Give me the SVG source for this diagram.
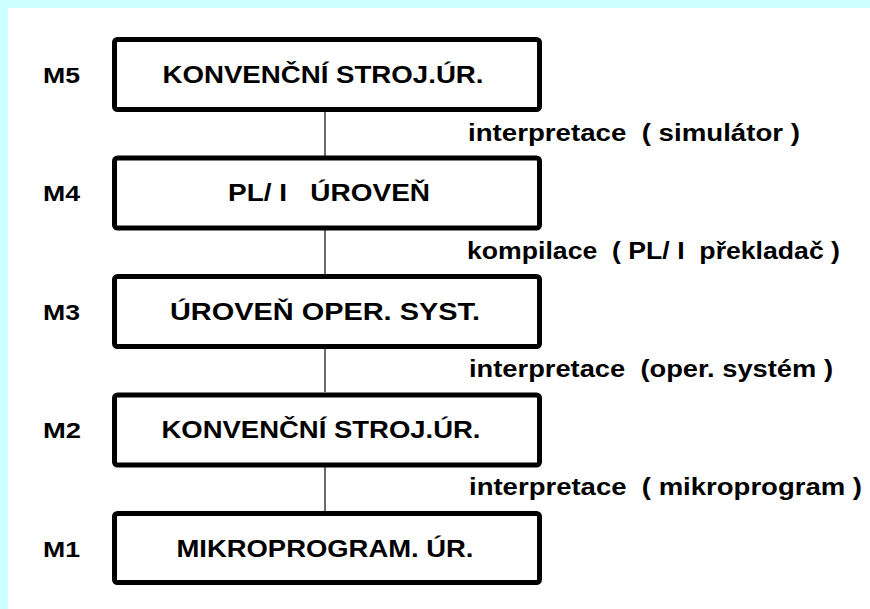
<svg xmlns="http://www.w3.org/2000/svg" width="870" height="609" viewBox="0 0 870 609">
  <style>
    .frame { fill: #ccffff; }
    .sheet { fill: #ffffff; }
    .box { fill: #ffffff; stroke: #000000; stroke-width: 5; }
    .link { stroke: #3a3a3a; stroke-width: 1.5; fill: none; }
    text { font-family: "Liberation Sans", Arial, sans-serif; font-weight: bold; fill: #000000; white-space: pre; }
    .title { font-size: 23px; text-anchor: middle; }
    .level { font-size: 22px; }
    .note { font-size: 23px; }
  </style>

  <!-- slide background with cyan margin on top and left -->
  <rect class="frame" x="0" y="0" width="870" height="609"/>
  <rect class="sheet" x="8" y="8" width="862" height="601"/>

  <!-- vertical connectors between level boxes -->
  <g id="connectors">
    <line class="link" x1="325" y1="112" x2="325" y2="156"/>
    <line class="link" x1="325" y1="230" x2="325" y2="274"/>
    <line class="link" x1="325" y1="348" x2="325" y2="392"/>
    <line class="link" x1="325" y1="467" x2="325" y2="511"/>
  </g>

  <g id="m5">
    <text class="level" x="43" y="83" textLength="37" lengthAdjust="spacingAndGlyphs">M5</text>
    <rect class="box" x="114.5" y="39.5" width="425" height="70" rx="3"/>
    <text class="title" x="323" y="83" textLength="321" lengthAdjust="spacingAndGlyphs">KONVENČNÍ STROJ.ÚR.</text>
  </g>

  <g id="m4">
    <text class="level" x="43" y="201" textLength="37" lengthAdjust="spacingAndGlyphs">M4</text>
    <rect class="box" x="114.5" y="158" width="425" height="70" rx="3"/>
    <text class="title" x="329" y="201" textLength="202" lengthAdjust="spacingAndGlyphs">PL/ I   ÚROVEŇ</text>
  </g>

  <g id="m3">
    <text class="level" x="43" y="320" textLength="37" lengthAdjust="spacingAndGlyphs">M3</text>
    <rect class="box" x="114.5" y="276.5" width="425" height="70" rx="3"/>
    <text class="title" x="325" y="320" textLength="310" lengthAdjust="spacingAndGlyphs">ÚROVEŇ OPER. SYST.</text>
  </g>

  <g id="m2">
    <text class="level" x="43" y="438" textLength="38" lengthAdjust="spacingAndGlyphs">M2</text>
    <rect class="box" x="114.5" y="395" width="425" height="70" rx="3"/>
    <text class="title" x="321" y="438" textLength="319" lengthAdjust="spacingAndGlyphs">KONVENČNÍ STROJ.ÚR.</text>
  </g>

  <g id="m1">
    <text class="level" x="43" y="557" textLength="37" lengthAdjust="spacingAndGlyphs">M1</text>
    <rect class="box" x="114.5" y="513.5" width="425" height="69" rx="3"/>
    <text class="title" x="325" y="557" textLength="297" lengthAdjust="spacingAndGlyphs">MIKROPROGRAM. ÚR.</text>
  </g>

  <!-- transition labels between levels -->
  <g id="labels">
    <text class="note" x="468" y="141" textLength="332" lengthAdjust="spacingAndGlyphs">interpretace  ( simulátor )</text>
    <text class="note" x="467" y="259" textLength="373" lengthAdjust="spacingAndGlyphs">kompilace  ( PL/ I  překladač )</text>
    <text class="note" x="469" y="377" textLength="364" lengthAdjust="spacingAndGlyphs">interpretace  (oper. systém )</text>
    <text class="note" x="469" y="495" textLength="393" lengthAdjust="spacingAndGlyphs">interpretace  ( mikroprogram )</text>
  </g>
</svg>
